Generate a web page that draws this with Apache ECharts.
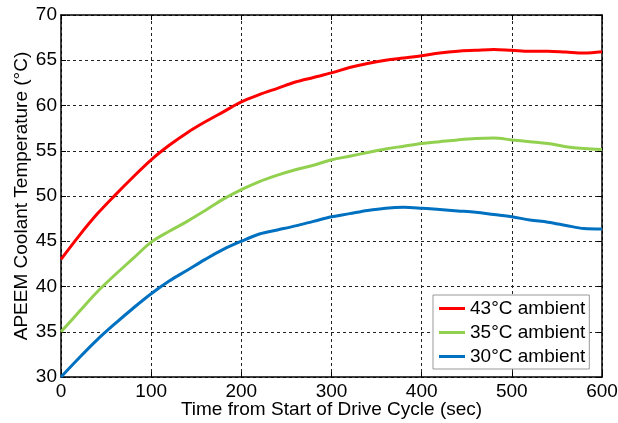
<!DOCTYPE html>
<html>
<head>
<meta charset="utf-8">
<script src="https://cdn.jsdelivr.net/npm/echarts@6/dist/echarts.min.js"></script>
<style>
  html, body { margin: 0; padding: 0; background: #fff; }
  #chart { width: 618px; height: 423px; }
</style>
</head>
<body>
<div id="chart"></div>
<script>
// Sample times (s) shared by all three runs
const seconds = [0, 20, 40, 60, 80, 100, 120, 140, 160, 180, 200, 220, 240, 260, 280, 300,
                 320, 340, 360, 380, 400, 420, 440, 460, 480, 500, 520, 540, 560, 580, 600];

// Coolant temperature (°C) for each ambient condition
const temp43 = [43.0, 45.6, 48.0, 50.1, 52.1, 54.0, 55.6, 57.0, 58.2, 59.3, 60.4, 61.2, 61.9, 62.6, 63.1, 63.6,
                64.2, 64.65, 65.0, 65.25, 65.5, 65.8, 66.0, 66.1, 66.2, 66.1, 66.0, 66.0, 65.9, 65.8, 65.95];
const temp35 = [35.0, 37.2, 39.4, 41.3, 43.1, 44.9, 46.1, 47.2, 48.4, 49.65, 50.7, 51.6, 52.3, 52.9, 53.4, 54.0,
                54.4, 54.8, 55.2, 55.5, 55.8, 56.0, 56.2, 56.35, 56.4, 56.2, 56.0, 55.8, 55.45, 55.25, 55.15];
const temp30 = [30.0, 32.1, 34.1, 35.9, 37.6, 39.2, 40.6, 41.8, 43.0, 44.1, 45.0, 45.8, 46.25, 46.7, 47.2, 47.7,
                48.05, 48.4, 48.65, 48.75, 48.65, 48.5, 48.35, 48.2, 47.95, 47.7, 47.35, 47.1, 46.75, 46.4, 46.35];

const seriesNames = ['43°C ambient', '35°C ambient', '30°C ambient'];
const seriesColors = ['#ff0000', '#92d050', '#0070c0'];

const xTicks = { min: 0, max: 600, interval: 100 };
const yTicks = { min: 30, max: 70, interval: 5 };

const FONT = 'Liberation Sans, Arial, Helvetica, sans-serif';
const FS = 19;

function pairs(ys) { return seconds.map((t, i) => [t, ys[i]]); }

const gridLine = { show: true, lineStyle: { color: '#222', width: 1, type: [3, 3] } };
const boxLine = { show: true, onZero: false, lineStyle: { color: '#000', width: 1.5 } };
const tickIn = { show: true, inside: true, length: 5, lineStyle: { color: '#000', width: 1 } };

const chart = echarts.init(document.getElementById('chart'), null, { renderer: 'canvas' });
chart.setOption({
  animation: false,
  backgroundColor: '#fff',
  textStyle: { fontFamily: FONT },
  grid: { left: 61, right: 16, top: 15, bottom: 46, containLabel: false, outerBoundsMode: 'none' },
  xAxis: [
    {
      type: 'value', position: 'bottom', ...xTicks,
      name: 'Time from Start of Drive Cycle (sec)', nameLocation: 'middle', nameGap: 23,
      nameMoveOverlap: false,
      nameTextStyle: { color: '#000', fontSize: FS, fontFamily: FONT },
      axisLine: boxLine, axisTick: tickIn, splitLine: gridLine,
      axisLabel: { color: '#000', fontSize: FS, fontFamily: FONT, margin: 5, showMinLabel: true, showMaxLabel: true }
    },
    {
      type: 'value', position: 'top', ...xTicks,
      axisLine: boxLine, axisTick: tickIn, splitLine: { show: false }, axisLabel: { show: false }
    }
  ],
  yAxis: [
    {
      type: 'value', position: 'left', ...yTicks,
      name: 'APEEM Coolant Temperature (°C)', nameLocation: 'middle', nameGap: 30,
      nameMoveOverlap: false,
      nameTextStyle: { color: '#000', fontSize: FS, fontFamily: FONT },
      axisLine: boxLine, axisTick: tickIn, splitLine: gridLine,
      axisLabel: { color: '#000', fontSize: FS, fontFamily: FONT, margin: 4, showMinLabel: true, showMaxLabel: true }
    },
    {
      type: 'value', position: 'right', ...yTicks,
      axisLine: boxLine, axisTick: tickIn, splitLine: { show: false }, axisLabel: { show: false }
    }
  ],
  legend: {
    orient: 'vertical', left: 433, top: 295,
    padding: [4, 4, 3, 6], itemGap: 5,
    backgroundColor: '#fff', borderColor: '#999', borderWidth: 1, borderRadius: 0,
    icon: 'rect', itemWidth: 26, itemHeight: 3,
    textStyle: { color: '#000', fontSize: FS, fontFamily: FONT, lineHeight: 19 },
    data: seriesNames
  },
  series: [temp43, temp35, temp30].map((ys, i) => ({
    name: seriesNames[i], type: 'line', data: pairs(ys),
    showSymbol: false, smooth: 0.35,
    lineStyle: { color: seriesColors[i], width: 3 },
    itemStyle: { color: seriesColors[i] },
    z: 3
  }))
});
</script>
</body>
</html>
